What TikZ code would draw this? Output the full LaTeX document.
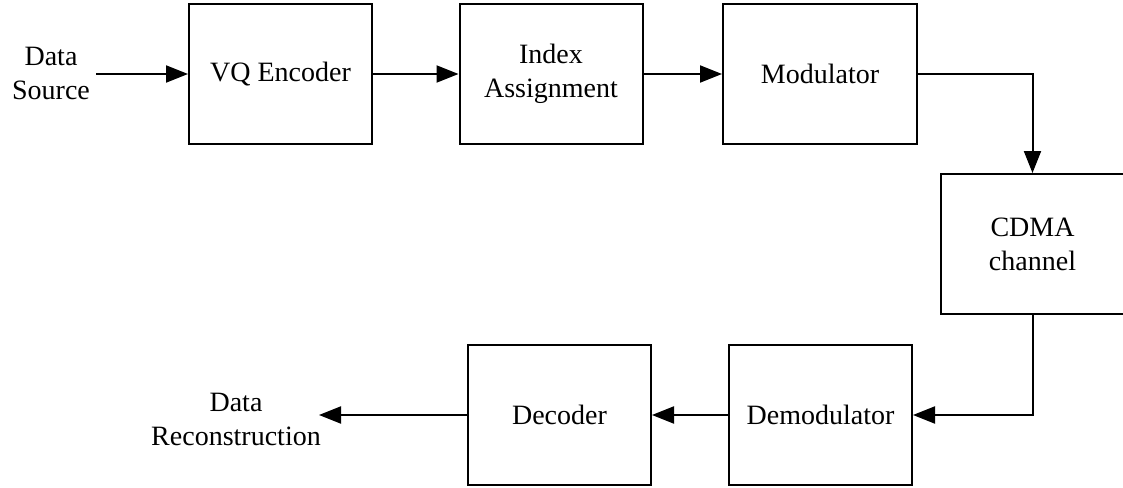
\documentclass[tikz,border=0pt]{standalone}
\usepackage{fontspec}
\setmainfont{Liberation Serif}
\usetikzlibrary{arrows.meta}
\begin{document}
\begin{tikzpicture}[x=0.5pt,y=-0.5pt,
  blk/.style={draw,line width=1pt,minimum width=91.5pt,minimum height=70pt,
    inner sep=0pt,align=center,font=\fontsize{14}{17}\selectfont},
  lbl/.style={align=center,font=\fontsize{14}{17}\selectfont,inner sep=0pt},
  flow/.style={line width=1pt,-{Triangle[length=11pt,width=8.5pt]}}]
\useasboundingbox (0,0) rectangle (1123,487);

% processing blocks
\node[blk] (vq)    at (280.5,74) {VQ Encoder};
\node[blk] (idx)   at (551,74)   {Index\\Assignment};
\node[blk,minimum width=97pt] (mod) at (820,74) {Modulator};
\node[blk] (cdma)  at (1032.5,244) {CDMA\\channel};
\node[blk] (demod) at (820.5,415) {Demodulator};
\node[blk] (dec)   at (559.5,415) {Decoder};

% source and sink labels
\node[lbl] (src) at (51,73) {Data\\Source};
\coordinate (srcout) at (96,74);
\node[lbl] (rec) at (236,419) {Data\\Reconstruction};
\coordinate (recin) at (319,415);

% signal flow
\draw[flow] (srcout) -- (vq.west);
\draw[flow] (vq.east) -- (idx.west);
\draw[flow] (idx.east) -- (mod.west);
\draw[flow] (mod.east) -| (cdma.north);
\draw[flow] (cdma.south) |- (demod.east);
\draw[flow] (demod.west) -- (dec.east);
\draw[flow] (dec.west) -- (recin);
\end{tikzpicture}
\end{document}
